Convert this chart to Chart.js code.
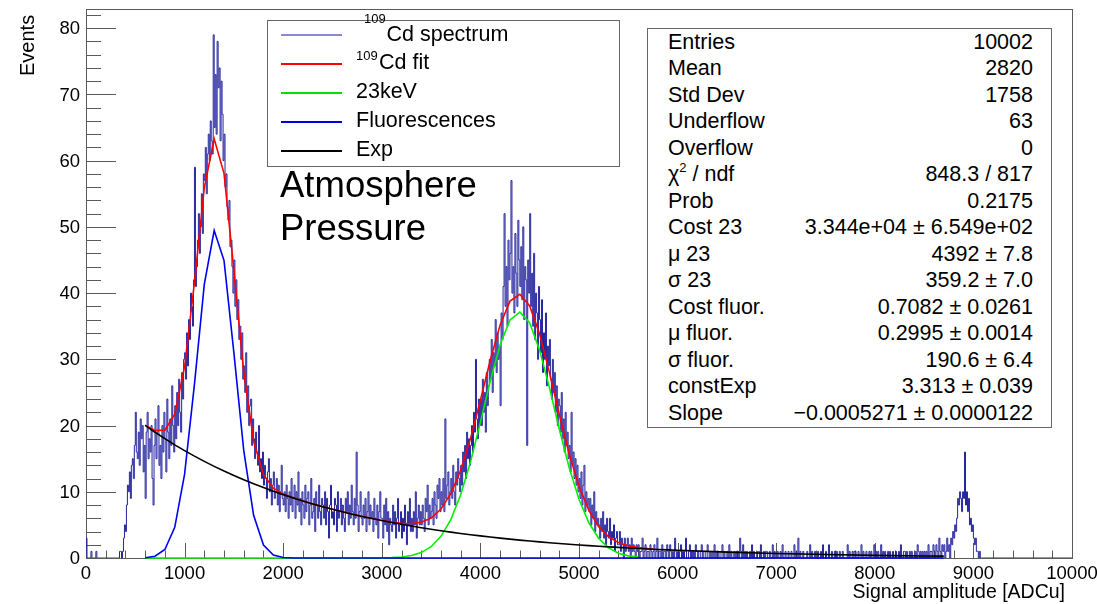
<!DOCTYPE html>
<html>
<head>
<meta charset="utf-8">
<script src="https://cdn.jsdelivr.net/npm/chart.js@4.4.1/dist/chart.umd.min.js"></script>
<style>
body { margin: 0; background: #fff; }
#wrap { position: relative; width: 1097px; height: 604px; font-family: "Liberation Sans", Arial, sans-serif; color: #000; }
#wrap canvas { position: absolute; left: 0; top: 0; }
.box { position: absolute; background: #fff; border: 1px solid #666; box-sizing: border-box; }
.t { position: absolute; white-space: nowrap; line-height: 1em; }
.key { position: absolute; height: 2px; }
</style>
</head>
<body>
<div id="wrap">
    <canvas id="cdChart" width="1097" height="604"></canvas>
    <!-- legend + stats boxes -->
    <div class="box" style="left:267px; top:20px; width:353px; height:147px;"></div>
    <div class="box" style="left:647px; top:28px; width:405px; height:400px;"></div>
</div>

<script>
// 109Cd spectrum, 10 ADCu bins, one array per 1000 ADCu
const binWidth = 10;
const counts0 = [
    3,0,0,0,0,1,0,0,0,0, 1,0,0,0,0,0,0,0,0,0, 0,0,0,0,0,0,0,0,0,0, 0,0,0,0,1,1,0,1,3,5,
    4,8,11,10,13,9,14,15,12,17, 22,16,15,19,14,21,18,20,13,17, 9,19,22,15,18,16,20,12,8,17,
    21,15,19,23,14,17,12,20,16,22, 18,13,24,19,15,21,17,26,20,16, 23,18,25,20,27,22,19,28,24,30
];
const counts1 = [
    31,27,34,29,36,33,40,38,35,42, 59,41,44,48,52,46,50,55,49,58, 57,62,55,61,64,60,66,63,61,79,
    65,73,64,78,71,74,63,72,67,60, 64,56,58,53,51,54,47,48,44,40, 45,38,42,36,39,33,35,30,34,27,
    29,25,31,22,26,20,23,24,17,21, 18,15,19,16,14,20,13,15,12,16, 11,14,12,9,13,15,10,12,8,11,
    13,9,10,12,8,11,7,10,14,9
];
const counts2 = [
    8,10,7,11,9,6,10,8,12,7, 9,11,6,10,8,13,7,9,5,10, 8,6,11,7,9,10,5,8,12,6,
    7,9,4,10,8,6,11,7,5,9, 8,6,10,5,9,7,3,8,11,6, 7,5,9,8,4,10,6,7,9,5,
    8,6,4,9,7,10,5,8,6,11, 7,5,9,6,16,8,4,7,10,6, 5,8,6,9,4,7,10,5,8,6,
    7,4,9,6,5,8,3,7,10,6
];
const counts3 = [
    6,3,8,5,9,4,7,2,6,5, 4,8,5,7,3,6,9,4,5,7, 3,6,4,8,5,2,7,5,9,4,
    6,4,7,5,10,3,6,8,5,7, 5,8,6,4,9,7,11,5,8,6, 7,9,5,10,8,6,11,9,12,7,
    10,8,12,7,21,9,11,13,8,10, 12,9,14,10,8,13,11,15,12,10, 14,11,16,13,17,12,19,15,18,14,
    17,20,16,22,19,30,21,18,24,20
];
const counts4 = [
    24,20,27,22,25,19,28,23,26,30, 27,33,25,31,29,36,28,34,30,32, 23,37,33,41,52,38,44,35,48,42,
    46,57,40,44,37,49,43,38,51,45, 41,47,39,50,36,44,42,17,45,40, 52,38,43,35,46,33,40,37,30,41,
    36,31,39,28,34,30,37,26,32,29, 33,27,24,30,25,28,22,26,20,24, 23,19,25,18,21,16,22,17,19,15,
    17,13,22,14,16,12,15,11,14,10
];
const counts5 = [
    12,9,13,8,11,14,7,10,8,9, 7,9,5,8,6,10,4,7,5,6, 5,3,6,4,7,3,5,2,6,4,
    3,6,2,4,3,5,1,3,4,2, 2,4,1,3,2,0,3,1,2,3, 1,2,0,3,1,2,1,0,2,1,
    2,0,1,1,3,0,1,2,0,1, 1,0,2,1,0,1,2,0,1,3, 0,1,1,0,2,0,1,1,0,2,
    1,0,2,1,0,1,0,3,1,0
];
const counts6 = [
    1,0,1,2,0,1,0,1,3,0, 0,1,2,0,1,0,1,0,2,1, 1,0,0,1,2,0,1,1,0,0,
    2,1,0,1,0,1,0,2,0,1, 0,1,0,0,1,2,0,1,0,0, 1,0,2,0,1,0,0,1,0,1,
    0,1,0,3,1,0,2,0,1,0, 1,0,0,1,0,2,0,1,0,0, 0,1,1,0,2,0,0,1,0,1,
    1,0,0,1,0,0,2,0,1,0
];
const counts7 = [
    0,1,0,0,1,0,2,0,0,1, 0,0,1,0,0,1,0,0,2,0, 1,0,3,0,1,0,0,1,0,0,
    0,1,0,0,2,0,1,0,0,1, 0,0,1,0,0,1,0,2,0,0, 1,0,0,2,0,0,1,0,0,1,
    0,1,0,0,1,0,0,1,0,0, 0,0,2,0,1,0,0,1,0,1, 1,0,0,1,0,0,2,0,1,0,
    0,1,0,0,1,0,1,0,0,2
];
const counts8 = [
    0,1,0,1,0,0,2,0,1,0, 1,0,0,1,0,1,0,0,1,0, 0,1,0,0,1,0,2,0,0,1,
    1,0,1,0,0,1,0,1,0,0, 0,1,0,2,1,0,1,0,1,0, 1,0,1,0,2,0,1,1,0,2,
    1,0,2,1,0,3,1,0,2,1, 2,0,1,3,1,2,0,3,2,4, 3,5,4,6,9,8,10,9,7,10,
    9,16,8,10,7,9,5,6,4,5
];
const counts9 = [3,2,3,1,1,0,1,0,0,0];

// fit curves (values read along the drawn polylines)
const fitX = [600,700,800,900,1000,1100,1200,1300,1400,1500,1600,1700,1800,1900,2000,2100,2200,2300,2400,2500,
    2600,2700,2800,2900,3000,3100,3200,3300,3400,3500,3600,3700,3800,3900,4000,4100,4200,4300,4400,4500,
    4600,4700,4800,4900,5000,5100,5200,5300,5400,5500,5600,5700,5750];
const fitY = [20.06,19.26,19.31,21.73,28.88,41.63,55.94,63.29,58.04,43.43,28.03,17.66,12.59,10.54,9.65,9.09,8.62,8.17,7.75,7.36,
    6.98,6.62,6.28,5.96,5.67,5.42,5.24,5.20,5.40,6.04,7.39,9.71,13.26,18.06,23.82,29.86,35.20,38.79,39.83,38.06,
    33.84,28.03,21.67,15.74,10.84,7.19,4.73,3.20,2.32,1.83,1.57,1.41,1.36];
const peak23X = [600,3000,3100,3200,3300,3400,3500,3600,3700,3800,3900,4000,4100,4200,4300,4400,4500,4600,4700,4800,
    4900,5000,5100,5200,5300,5400,5500,5600];
const peak23Y = [0,0.02,0.06,0.15,0.37,0.82,1.70,3.27,5.80,9.55,14.54,20.48,26.69,32.20,35.94,37.13,35.50,31.41,25.72,19.48,
    13.66,8.87,5.32,2.96,1.52,0.72,0.32,0.13];
const fluorX = [600,700,800,900,1000,1100,1200,1300,1400,1500,1600,1700,1800,1900,2000,2100,2200,8700];
const fluorY = [0.04,0.27,1.29,4.64,12.66,26.25,41.35,49.45,44.91,30.97,16.21,6.45,1.95,0.45,0.08,0.01,0,0];
const expX = [600,700,800,900,1000,1100,1200,1300,1400,1500,1600,1700,1800,1900,2000,2100,2200,2300,2400,2500,
    2600,2700,2800,2900,3000,3100,3200,3300,3400,3500,3600,3700,3800,3900,4000,4100,4200,4300,4400,4500,
    4600,4700,4800,4900,5000,5100,5200,5300,5400,5500,5600,5700,5800,5900,6000,6500,7000,7500,8000,8500,8700];
const expY = [20.02,18.99,18.02,17.09,16.22,15.38,14.59,13.84,13.13,12.46,11.82,11.21,10.64,10.09,9.57,9.08,8.62,8.17,7.75,7.36,
    6.98,6.62,6.28,5.96,5.65,5.36,5.09,4.83,4.58,4.34,4.12,3.91,3.71,3.52,3.34,3.17,3.00,2.85,2.70,2.56,
    2.43,2.31,2.19,2.08,1.97,1.87,1.77,1.68,1.60,1.51,1.44,1.36,1.29,1.23,1.16,0.89,0.69,0.53,0.40,0.31,0.28];

// axes
const xTickValues = [0,1000,2000,3000,4000,5000,6000,7000,8000,9000,10000];
const xTickLabels = ['0','1000','2000','3000','4000','5000','6000','7000','8000','9000','10000'];
const yTickValues = [0,10,20,30,40,50,60,70,80];
const yTickLabels = ['0','10','20','30','40','50','60','70','80'];
const xMinorStep = 200;
const yMinorStep = 2;

// legend and stats box text
const legendLabels = ['Cd spectrum', 'Cd fit', '23keV', 'Fluorescences', 'Exp'];
const statLabels = ['Entries','Mean','Std Dev','Underflow','Overflow','χ<sup style="font-size:13px;vertical-align:9px;line-height:0">2</sup> / ndf','Prob',
    'Cost 23','μ 23','σ 23','Cost fluor.','μ fluor.','σ fluor.','constExp','Slope'];
const statValues = ['10002','2820','1758','63','0','848.3 / 817','0.2175',
    '3.344e+04 ± 6.549e+02','4392 ± 7.8','359.2 ± 7.0','0.7082 ± 0.0261','0.2995 ± 0.0014','190.6 ± 6.4',
    '3.313 ± 0.039','−0.0005271 ± 0.0000122'];

function pairs(xs, ys) {
    return xs.map((x, i) => ({ x: x, y: ys[i] }));
}

// histogram as a stepped outline, one point per bin low edge
const counts = [].concat(counts0, counts1, counts2, counts3, counts4, counts5, counts6, counts7, counts8, counts9);
const histPoints = [{ x: 0, y: 0 }];
counts.forEach((c, i) => histPoints.push({ x: i * binWidth, y: c }));
histPoints.push({ x: counts.length * binWidth, y: 0 });
histPoints.push({ x: 10000, y: 0 });

const font = '"Liberation Sans", Arial, sans-serif';

// ROOT style frame with inside ticks (under the curves), labels on top
const rootAxes = {
    id: 'rootAxes',
    beforeDatasetsDraw(chart) {
        const { ctx, chartArea: a, scales: { x, y } } = chart;
        ctx.save();
        ctx.strokeStyle = '#5a5a5a';
        ctx.lineWidth = 1;
        ctx.strokeRect(Math.round(a.left) + 0.5, Math.round(a.top) + 0.5,
            Math.round(a.right - a.left), Math.round(a.bottom - a.top));

        ctx.beginPath();
        for (let v = 0; v <= y.max; v += yMinorStep) {
            const py = Math.round(y.getPixelForValue(v)) + 0.5;
            const len = v % 10 === 0 ? 30 : 15;
            ctx.moveTo(a.left, py);
            ctx.lineTo(a.left + len, py);
        }
        for (let v = 0; v <= x.max; v += xMinorStep) {
            const px = Math.round(x.getPixelForValue(v)) + 0.5;
            const len = v % 1000 === 0 ? 15 : 7.5;
            ctx.moveTo(px, a.bottom);
            ctx.lineTo(px, a.bottom - len);
        }
        ctx.stroke();
        ctx.restore();
    },
    afterDraw(chart) {
        const { ctx, chartArea: a, scales: { x, y } } = chart;
        ctx.save();
        ctx.fillStyle = '#000';
        ctx.font = '18.5px ' + font;
        ctx.textAlign = 'right';
        ctx.textBaseline = 'middle';
        yTickValues.forEach((v, i) => ctx.fillText(yTickLabels[i], a.left - 6, y.getPixelForValue(v) + 1));
        ctx.textAlign = 'center';
        ctx.textBaseline = 'alphabetic';
        xTickValues.forEach((v, i) => ctx.fillText(xTickLabels[i], x.getPixelForValue(v), a.bottom + 21));

        // axis titles
        ctx.font = '19.5px ' + font;
        ctx.textAlign = 'right';
        ctx.fillText('Signal amplitude [ADCu]', 1065, 598);
        ctx.translate(34, 76);
        ctx.rotate(-Math.PI / 2);
        ctx.textAlign = 'left';
        ctx.font = '20px ' + font;
        ctx.fillText('Events', 0, 0);
        ctx.restore();
    }
};

const ctx = document.getElementById('cdChart').getContext('2d');
const cdChart = new Chart(ctx, {
    type: 'line',
    data: {
        datasets: [
            { label: 'Exp', data: pairs(expX, expY), borderColor: '#000000', borderWidth: 1.6, clip: 4 },
            { label: 'Fluorescences', data: pairs(fluorX, fluorY), borderColor: '#0000f0', borderWidth: 1.6, clip: 4 },
            { label: '23keV', data: pairs(peak23X, peak23Y), borderColor: '#00f000', borderWidth: 1.6, clip: 4 },
            { label: '109Cd fit', data: pairs(fitX, fitY), borderColor: '#ff0000', borderWidth: 1.6, clip: 4 },
            { label: '109Cd spectrum', data: histPoints, borderColor: '#24249e', borderWidth: 1, stepped: 'before' }
        ]
    },
    options: {
        responsive: false,
        animation: false,
        events: [],
        elements: { point: { radius: 0 }, line: { tension: 0, fill: false } },
        layout: { padding: { left: 86, right: 25, top: 9, bottom: 46 } },
        plugins: { legend: { display: false }, tooltip: { enabled: false } },
        scales: {
            x: { type: 'linear', min: 0, max: 10000, display: false },
            y: { type: 'linear', min: 0, max: 82.9, display: false }
        }
    },
    plugins: [rootAxes]
});

// text overlays (positioned by baseline)
const wrap = document.getElementById('wrap');
function putText(html, x, baseline, size, alignRight) {
    const d = document.createElement('div');
    d.className = 't';
    d.style.fontSize = size + 'px';
    d.style.top = (baseline - 0.8465 * size) + 'px';
    if (alignRight) d.style.right = (1097 - x) + 'px';
    else d.style.left = x + 'px';
    d.innerHTML = html;
    wrap.appendChild(d);
}

// legend entries
const keyColors = ['#8a8ad2', '#ff0000', '#00e000', '#0000e0', '#000000'];
const keyY = [35, 63.5, 92.5, 121.5, 150.5];
keyColors.forEach((c, i) => {
    const k = document.createElement('div');
    k.className = 'key';
    k.style.left = '281px';
    k.style.width = '61px';
    k.style.top = (keyY[i] - 1) + 'px';
    k.style.background = c;
    wrap.appendChild(k);
});
putText('109', 364, 23.5, 13);
putText(legendLabels[0], 386.5, 41.7, 21.5);
putText('109', 356, 60, 13);
putText(legendLabels[1], 379, 70, 21.5);
putText(legendLabels[2], 356, 99.3, 21.5);
putText(legendLabels[3], 356, 128.3, 21.5);
putText(legendLabels[4], 356, 156.7, 21.5);

putText('Atmosphere', 280, 198, 36.5);
putText('Pressure', 280, 241, 36.5);

// stats box
statLabels.forEach((lbl, i) => {
    const base = 50 + 26.5 * i;
    putText(lbl, 668, base, 21.5);
    putText(statValues[i], 1033, base, 21.5, true);
});
</script>
</body>
</html>
